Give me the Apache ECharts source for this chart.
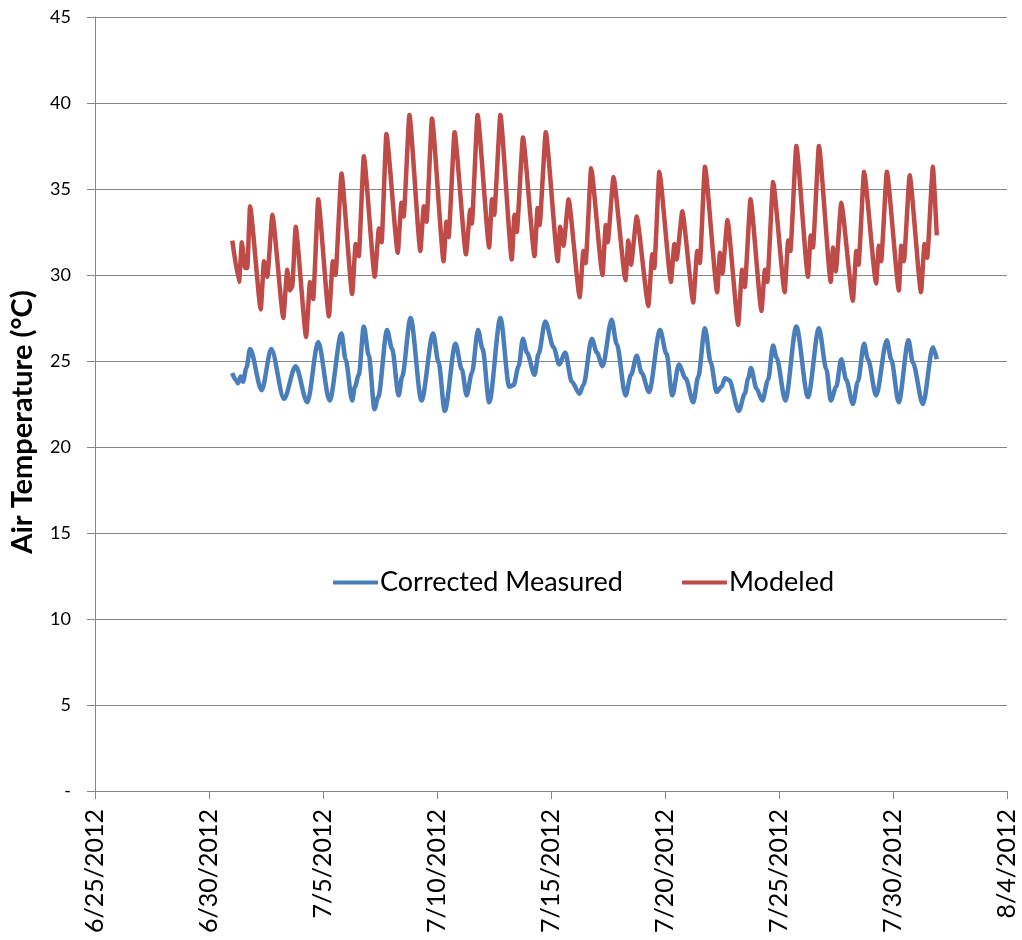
<!DOCTYPE html>
<html>
<head>
<meta charset="utf-8">
<script src="https://cdn.jsdelivr.net/npm/echarts@6/dist/echarts.min.js"></script>
<style>
html,body{margin:0;padding:0;background:#fff;}
#chart{width:1022px;height:940px;}
</style>
</head>
<body>
<div id="chart"></div>
<script>
// x values are days since 6/25/2012 00:00
const xTickLabels = ["6/25/2012","6/30/2012","7/5/2012","7/10/2012","7/15/2012","7/20/2012","7/25/2012","7/30/2012","8/4/2012"];
const yTickLabels = ["-","5","10","15","20","25","30","35","40","45"];

const measuredDay = [6.02,6.17,6.27,6.39,6.49,6.64,6.80,7.31,7.73,8.29,8.80,9.31,9.79,10.29,10.81,10.99,11.28,11.40,11.57,11.79,12.01,12.26,12.42,12.81,13.03,13.32,13.47,13.84,14.32,14.83,15.07,15.34,15.81,16.09,16.30,16.53,16.80,17.00,17.29,17.78,18.17,18.36,18.58,18.77,18.94,19.28,19.45,19.75,20.11,20.36,20.62,20.91,21.25,21.42,21.79,22.01,22.26,22.66,22.88,23.27,23.51,23.76,23.98,24.30,24.78,25.07,25.32,25.61,25.90,26.24,26.46,26.75,27.01,27.26,27.48,27.63,27.81,28.24,28.50,28.65,28.77,29.01,29.27,29.52,29.74,29.89,30.28,30.76,31.27,31.75,32.08,32.27,32.51,32.73,32.95,33.24,33.46,33.73,33.90,34.26,34.73,34.92,35.25,35.68,35.87,36.31,36.75,36.92];
const measuredTemp = [24.3,23.9,23.7,24.1,23.8,24.6,25.7,23.3,25.7,22.8,24.7,22.6,26.1,22.7,26.6,25.1,22.7,23.5,24.2,27.0,25.3,22.2,22.9,26.8,25.7,23.0,24.1,27.5,22.7,26.6,24.9,22.1,26.0,24.5,23.0,24.3,26.8,25.7,22.6,27.5,23.5,23.6,24.7,26.3,25.5,24.2,25.4,27.3,25.8,24.8,25.5,23.8,23.1,23.6,26.3,25.5,24.7,27.4,26.0,23.0,24.2,25.3,24.3,23.2,26.8,25.4,23.0,24.8,24.0,22.6,24.1,26.9,24.9,23.2,23.5,24.0,23.9,22.1,23.1,24.0,24.6,23.4,22.7,23.9,25.9,25.2,22.7,27.0,22.9,26.9,24.5,22.7,23.5,25.1,23.9,22.5,23.8,26.0,25.1,23.0,26.2,25.1,22.6,26.2,24.9,22.5,25.8,25.1];

const modeledDay = [6.02,6.32,6.44,6.58,6.68,6.80,7.27,7.41,7.56,7.78,8.26,8.43,8.55,8.65,8.80,9.26,9.43,9.57,9.79,10.26,10.43,10.55,10.81,11.28,11.43,11.57,11.79,12.27,12.45,12.57,12.78,13.28,13.44,13.54,13.79,14.27,14.42,14.54,14.78,15.29,15.41,15.51,15.77,16.27,16.46,16.53,16.78,17.29,17.41,17.51,17.78,18.28,18.40,18.50,18.77,19.28,19.41,19.50,19.77,20.30,20.40,20.55,20.77,21.26,21.42,21.52,21.76,22.26,22.40,22.49,22.74,23.27,23.39,23.51,23.76,24.27,24.44,24.53,24.75,25.26,25.41,25.51,25.76,26.24,26.41,26.53,26.75,27.29,27.41,27.52,27.74,28.21,28.38,28.50,28.75,29.23,29.38,29.49,29.74,30.25,30.40,30.50,30.76,31.27,31.39,31.49,31.75,32.27,32.37,32.49,32.73,33.24,33.39,33.49,33.73,34.26,34.38,34.48,34.73,35.26,35.36,35.48,35.73,36.23,36.38,36.50,36.75,36.92];
const modeledTemp = [32.0,29.6,31.9,30.4,30.4,34.0,28.0,30.8,29.9,33.5,27.5,30.3,29.1,29.3,32.8,26.4,29.6,28.6,34.4,27.6,30.8,30.0,35.9,28.9,31.8,31.1,36.9,29.9,32.7,31.9,38.2,31.3,34.2,33.4,39.3,31.4,34.0,33.1,39.1,30.8,33.1,32.2,38.3,31.2,33.8,33.0,39.3,31.6,34.4,33.5,39.3,30.9,33.5,32.5,38.0,31.1,33.9,32.9,38.3,30.8,32.8,31.7,34.4,28.7,31.4,30.7,36.2,30.0,32.9,31.9,35.7,29.7,32.0,30.6,33.4,28.2,31.2,30.4,36.0,29.6,31.8,30.9,33.7,28.4,31.4,30.7,36.3,29.0,31.3,30.1,33.2,27.1,30.3,29.3,34.4,27.9,30.3,29.6,35.4,29.0,32.0,31.4,37.5,29.9,32.3,31.6,37.5,29.6,31.6,30.2,34.2,28.5,31.4,30.6,36.0,29.5,31.7,30.8,36.0,29.1,31.7,30.8,35.8,29.0,31.8,31.0,36.3,32.3];

const seriesNames = ["Corrected Measured","Modeled"];
const seriesColors = ["#4A7EBB","#BE4B48"];

const pair = (xs, ys) => xs.map((x, i) => [x, ys[i]]);
const FONT = "Lato, 'Open Sans', sans-serif";

const chart = echarts.init(document.getElementById('chart'), null, {renderer: 'canvas'});
chart.setOption({
  animation: false,
  backgroundColor: '#ffffff',
  grid: {left: 95, right: 15, top: 17, bottom: 149, containLabel: false, outerBoundsMode: 'none'},
  legend: {
    data: seriesNames,
    left: 333,
    top: 569,
    padding: 0,
    itemWidth: 45,
    itemHeight: 14,
    itemGap: 59,
    icon: 'path://M0,5.5 L45,5.5 L45,9.5 L0,9.5 Z',
    textStyle: {fontFamily: FONT, fontSize: 27, color: '#000', padding: [0, 0, 0, -3]}
  },
  xAxis: {
    type: 'value',
    min: 0, max: 40, interval: 5,
    axisLine: {show: true, lineStyle: {color: '#868686', width: 1}},
    axisTick: {show: true, length: 8, lineStyle: {color: '#868686'}},
    splitLine: {show: false},
    axisLabel: {
      rotate: 90, margin: 18, color: '#000',
      fontFamily: FONT, fontSize: 25,
      formatter: v => xTickLabels[Math.round(v / 5)]
    }
  },
  yAxis: {
    type: 'value',
    min: 0, max: 45, interval: 5,
    name: 'Air Temperature (°C)',
    nameLocation: 'middle',
    nameGap: 58,
    nameRotate: 90,
    nameTextStyle: {fontFamily: FONT, fontSize: 29, fontWeight: 'bold', color: '#000', padding: [0, 36, 0, 0]},
    axisLine: {show: true, lineStyle: {color: '#868686', width: 1}},
    axisTick: {show: true, length: 8, lineStyle: {color: '#868686'}},
    splitLine: {show: true, lineStyle: {color: '#868686', width: 1}},
    axisLabel: {
      margin: 24, color: '#000', fontFamily: FONT, fontSize: 18,
      formatter: v => yTickLabels[Math.round(v / 5)]
    }
  },
  series: [
    {
      name: seriesNames[0], type: 'line', data: pair(measuredDay, measuredTemp),
      showSymbol: false, smooth: 0.3, smoothMonotone: 'x',
      lineStyle: {color: seriesColors[0], width: 4.5}, itemStyle: {color: seriesColors[0]}, z: 3
    },
    {
      name: seriesNames[1], type: 'line', data: pair(modeledDay, modeledTemp),
      showSymbol: false, smooth: 0.15, smoothMonotone: 'x',
      lineStyle: {color: seriesColors[1], width: 4.5}, itemStyle: {color: seriesColors[1]}, z: 2
    }
  ]
});
</script>
</body>
</html>
